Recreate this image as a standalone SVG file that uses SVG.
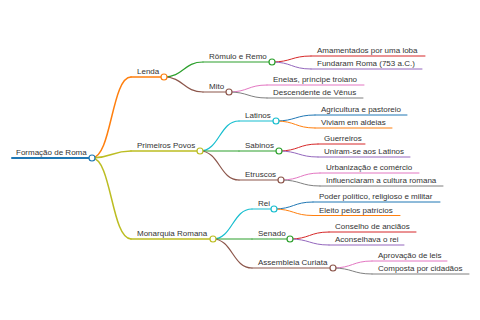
<svg xmlns="http://www.w3.org/2000/svg" width="480" height="320" viewBox="0 0 480 320">
<style>
text{font-family:"Liberation Sans",Arial,sans-serif;font-size:8px;fill:#333}
path,line{fill:none;stroke-linecap:round}
circle{fill:#fff;stroke-width:1.2}
.l1{stroke-width:1.5}
.l2{stroke-width:1.2}
.l3{stroke-width:1}
</style>
<rect width="480" height="320" fill="#fff"/>
<g id="connectors">
<path class="l1" stroke="#ff7f0e" d="M92,158 C111.5,158 111.5,77 131,77"/>
<path class="l1" stroke="#bcbd22" d="M92,158 C111.5,158 111.5,151 131,151"/>
<path class="l1" stroke="#bcbd22" d="M92,158 C111.5,158 111.5,239 131,239"/>
<path class="l2" stroke="#2ca02c" d="M164,77 C183.5,77 183.5,62 203,62"/>
<path class="l2" stroke="#8c564b" d="M164,77 C183.5,77 183.5,92 203,92"/>
<path class="l3" stroke="#d62728" d="M272,62 C291.5,62 291.5,56 311,56"/>
<path class="l3" stroke="#9467bd" d="M272,62 C291.5,62 291.5,69 311,69"/>
<path class="l3" stroke="#e377c2" d="M229,92 C248,92 248,85 267,85"/>
<path class="l3" stroke="#7f7f7f" d="M229,92 C248,92 248,98 267,98"/>
<path class="l2" stroke="#17becf" d="M200,151 C219.5,151 219.5,121 239,121"/>
<path class="l2" stroke="#2ca02c" d="M200,151 C219.5,151 219.5,151 239,151"/>
<path class="l2" stroke="#8c564b" d="M200,151 C219.5,151 219.5,180 239,180"/>
<path class="l3" stroke="#1f77b4" d="M276,121 C295.5,121 295.5,115 315,115"/>
<path class="l3" stroke="#ff7f0e" d="M276,121 C295.5,121 295.5,128 315,128"/>
<path class="l3" stroke="#d62728" d="M279,151 C298.5,151 298.5,144 318,144"/>
<path class="l3" stroke="#9467bd" d="M279,151 C298.5,151 298.5,157 318,157"/>
<path class="l3" stroke="#e377c2" d="M281,180 C300.5,180 300.5,173 320,173"/>
<path class="l3" stroke="#7f7f7f" d="M281,180 C300.5,180 300.5,186 320,186"/>
<path class="l2" stroke="#17becf" d="M213,239 C232.5,239 232.5,209 252,209"/>
<path class="l2" stroke="#2ca02c" d="M213,239 C232.5,239 232.5,239 252,239"/>
<path class="l2" stroke="#8c564b" d="M213,239 C232.5,239 232.5,268 252,268"/>
<path class="l3" stroke="#1f77b4" d="M274,209 C293.5,209 293.5,202 313,202"/>
<path class="l3" stroke="#ff7f0e" d="M274,209 C293.5,209 293.5,215.5 313,215.5"/>
<path class="l3" stroke="#d62728" d="M290,239 C309.5,239 309.5,232 329,232"/>
<path class="l3" stroke="#9467bd" d="M290,239 C309.5,239 309.5,245 329,245"/>
<path class="l3" stroke="#e377c2" d="M333,268 C352.5,268 352.5,261 372,261"/>
<path class="l3" stroke="#7f7f7f" d="M333,268 C352.5,268 352.5,274 372,274"/>
</g>
<g id="root"><line x1="12" y1="158" x2="92" y2="158" stroke="#1f77b4" stroke-width="2"/><text x="16" y="155">Formação de Roma</text><circle cx="92" cy="158" r="3" stroke="#1f77b4"/></g>
<g id="lenda"><line class="l1" x1="131" y1="77" x2="164" y2="77" stroke="#ff7f0e"/><text x="137" y="74">Lenda</text><circle cx="164" cy="77" r="3" stroke="#ff7f0e"/></g>
<g id="romulo"><line class="l2" x1="203" y1="62" x2="272" y2="62" stroke="#2ca02c"/><text x="209" y="59">Rômulo e Remo</text><circle cx="272" cy="62" r="3" stroke="#2ca02c"/></g>
<g id="amamentados"><line class="l3" x1="311" y1="56" x2="425" y2="56" stroke="#d62728"/><text x="317" y="53">Amamentados por uma loba</text></g>
<g id="fundaram"><line class="l3" x1="311" y1="69" x2="422" y2="69" stroke="#9467bd"/><text x="317" y="66">Fundaram Roma (753 a.C.)</text></g>
<g id="mito"><line class="l2" x1="203" y1="92" x2="229" y2="92" stroke="#8c564b"/><text x="209" y="89">Mito</text><circle cx="229" cy="92" r="3" stroke="#8c564b"/></g>
<g id="eneias"><line class="l3" x1="267" y1="85" x2="364" y2="85" stroke="#e377c2"/><text x="273" y="82">Eneias, príncipe troiano</text></g>
<g id="descendente"><line class="l3" x1="267" y1="98" x2="363" y2="98" stroke="#7f7f7f"/><text x="273" y="95">Descendente de Vênus</text></g>
<g id="povos"><line class="l1" x1="131" y1="151" x2="200" y2="151" stroke="#bcbd22"/><text x="137" y="148">Primeiros Povos</text><circle cx="200" cy="151" r="3" stroke="#bcbd22"/></g>
<g id="latinos"><line class="l2" x1="239" y1="121" x2="276" y2="121" stroke="#17becf"/><text x="245" y="118">Latinos</text><circle cx="276" cy="121" r="3" stroke="#17becf"/></g>
<g id="agricultura"><line class="l3" x1="315" y1="115" x2="407" y2="115" stroke="#1f77b4"/><text x="321" y="112">Agricultura e pastoreio</text></g>
<g id="viviam"><line class="l3" x1="315" y1="128" x2="392" y2="128" stroke="#ff7f0e"/><text x="321" y="125">Viviam em aldeias</text></g>
<g id="sabinos"><line class="l2" x1="239" y1="151" x2="279" y2="151" stroke="#2ca02c"/><text x="245" y="148">Sabinos</text><circle cx="279" cy="151" r="3" stroke="#2ca02c"/></g>
<g id="guerreiros"><line class="l3" x1="318" y1="144" x2="365" y2="144" stroke="#d62728"/><text x="324" y="141">Guerreiros</text></g>
<g id="uniram"><line class="l3" x1="318" y1="157" x2="410" y2="157" stroke="#9467bd"/><text x="324" y="154">Uniram-se aos Latinos</text></g>
<g id="etruscos"><line class="l2" x1="239" y1="180" x2="281" y2="180" stroke="#8c564b"/><text x="245" y="177">Etruscos</text><circle cx="281" cy="180" r="3" stroke="#8c564b"/></g>
<g id="urbanizacao"><line class="l3" x1="320" y1="173" x2="419" y2="173" stroke="#e377c2"/><text x="326" y="170">Urbanização e comércio</text></g>
<g id="influenciaram"><line class="l3" x1="320" y1="186" x2="443" y2="186" stroke="#7f7f7f"/><text x="326" y="183">Influenciaram a cultura romana</text></g>
<g id="monarquia"><line class="l1" x1="131" y1="239" x2="213" y2="239" stroke="#bcbd22"/><text x="137" y="236">Monarquia Romana</text><circle cx="213" cy="239" r="3" stroke="#bcbd22"/></g>
<g id="rei"><line class="l2" x1="252" y1="209" x2="274" y2="209" stroke="#17becf"/><text x="258" y="206">Rei</text><circle cx="274" cy="209" r="3" stroke="#17becf"/></g>
<g id="poder"><line class="l3" x1="313" y1="202" x2="440" y2="202" stroke="#1f77b4"/><text x="319" y="199">Poder político, religioso e militar</text></g>
<g id="eleito"><line class="l3" x1="313" y1="215.5" x2="400" y2="215.5" stroke="#ff7f0e"/><text x="319" y="212.5">Eleito pelos patrícios</text></g>
<g id="senado"><line class="l2" x1="252" y1="239" x2="290" y2="239" stroke="#2ca02c"/><text x="258" y="236">Senado</text><circle cx="290" cy="239" r="3" stroke="#2ca02c"/></g>
<g id="conselho"><line class="l3" x1="329" y1="232" x2="416" y2="232" stroke="#d62728"/><text x="335" y="229">Conselho de anciãos</text></g>
<g id="aconselhava"><line class="l3" x1="329" y1="245" x2="404" y2="245" stroke="#9467bd"/><text x="335" y="242">Aconselhava o rei</text></g>
<g id="assembleia"><line class="l2" x1="252" y1="268" x2="333" y2="268" stroke="#8c564b"/><text x="258" y="265">Assembleia Curiata</text><circle cx="333" cy="268" r="3" stroke="#8c564b"/></g>
<g id="aprovacao"><line class="l3" x1="372" y1="261" x2="447" y2="261" stroke="#e377c2"/><text x="378" y="258">Aprovação de leis</text></g>
<g id="composta"><line class="l3" x1="372" y1="274" x2="469" y2="274" stroke="#7f7f7f"/><text x="378" y="271">Composta por cidadãos</text></g>
</svg>
